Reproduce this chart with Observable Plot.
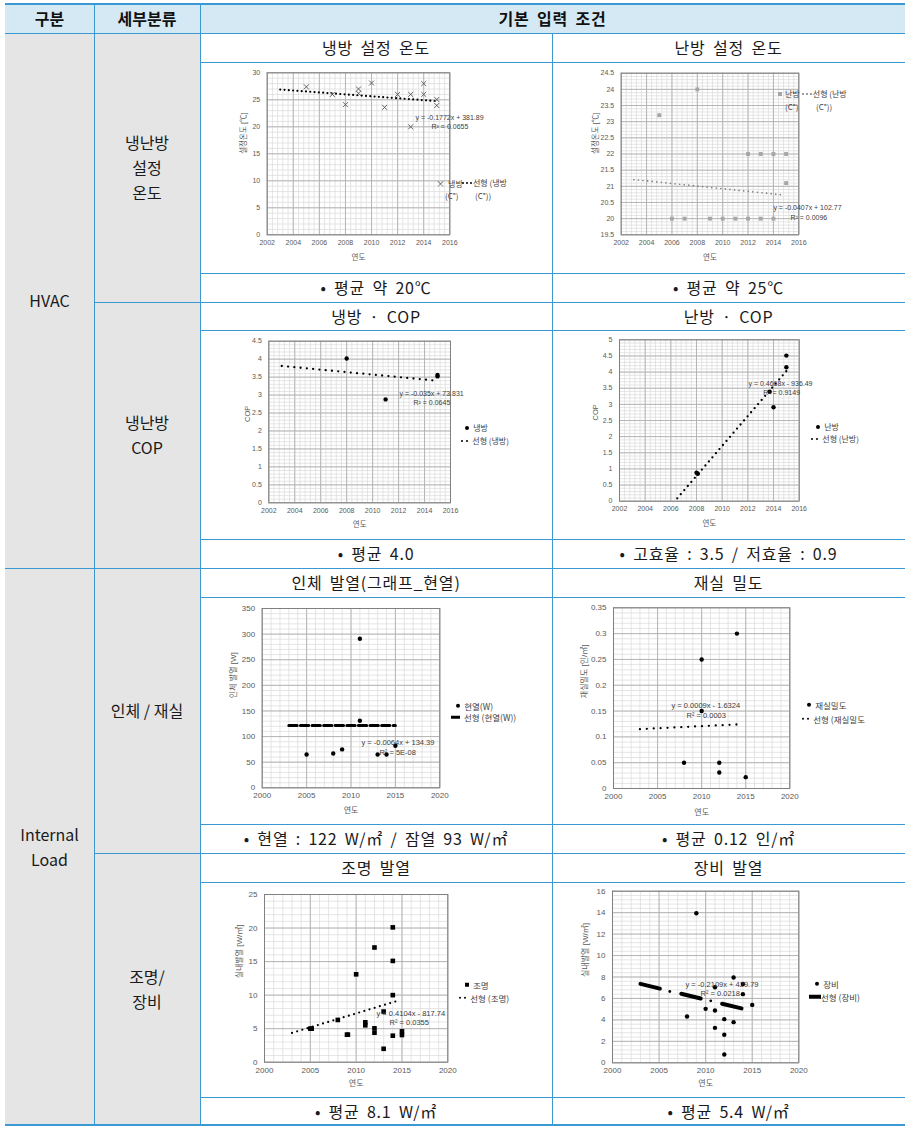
<!DOCTYPE html>
<html><head><meta charset="utf-8">
<script src="https://cdn.jsdelivr.net/npm/d3@7"></script>
<script src="https://cdn.jsdelivr.net/npm/@observablehq/plot@0.6"></script>
<style>
body{margin:0;background:#fff;}
#root{position:relative;width:909px;height:1146px;font-family:"Noto Sans CJK KR",sans-serif;color:#1a1a1a;overflow:hidden;}
.cell{position:absolute;display:flex;align-items:center;justify-content:center;text-align:center;box-sizing:border-box;font-size:16px;line-height:25px;}
.sp{word-spacing:3px;letter-spacing:0.8px;}
.ln{position:absolute;background:#3a98d2;}
.leg{position:absolute;font-family:"Noto Sans CJK KR",sans-serif;color:#404040;white-space:nowrap;line-height:1;transform:translateY(-50%);display:flex;align-items:center;}
.chart{position:absolute;}
</style></head><body><div id="root"></div>
<script>
// ---------------- data ----------------
// 냉방 설정 온도
const coolYear = [2005, 2007, 2008, 2009, 2009, 2010, 2011, 2012, 2013, 2013, 2014, 2014, 2015, 2015];
const coolTemp = [27.4, 26, 24.1, 27, 26.2, 28.1, 23.6, 26, 26, 20, 28, 26, 25.05, 23.95];
const coolTrendYear = [2003, 2015];
const coolTrend = [26.9, 24.75];
// 난방 설정 온도
const heatYear = [2005, 2008, 2006, 2007, 2009, 2010, 2011, 2012, 2013, 2014, 2012, 2013, 2014, 2015, 2015];
const heatTemp = [23.2, 24, 20, 20, 20, 20, 20, 20, 20, 20, 22, 22, 22, 22, 21.1];
const heatTrendYear = [2003, 2014.87];
const heatTrend = [21.21, 20.73];
// 냉방 COP
const copCoolYear = [2008, 2011, 2015, 2015];
const copCool = [4.02, 2.88, 3.56, 3.52];
const copCoolTrendYear = [2003, 2014.65];
const copCoolTrend = [3.81, 3.41];
// 난방 COP
const copHeatYear = [2015, 2015, 2014, 2008, 2008.1, 2013.7];
const copHeat = [4.51, 4.15, 2.91, 0.88, 0.85, 3.39];
const copHeatTrendYear = [2006.5, 2015];
const copHeatTrend = [0.09, 4.03];
// 인체 발열
const bodyYear = [2005, 2008, 2009, 2011, 2011, 2013, 2014, 2015];
const bodyHeat = [65, 67, 75, 291, 131, 65, 65, 82];
const bodyTrendYear = [2003, 2015];
const bodyTrend = [121.7, 121.6];
// 재실 밀도
const occYear = [2008, 2010, 2010, 2012, 2012, 2014, 2015];
const occDensity = [0.05, 0.25, 0.15, 0.05, 0.031, 0.3, 0.022];
const occTrendYear = [2003, 2014.67];
const occTrend = [0.115, 0.1246];
// 조명 발열
const lightYear = [2005, 2005.15, 2008, 2009, 2009.1, 2010, 2011, 2011, 2012, 2012, 2012, 2013, 2013, 2014, 2014, 2014, 2014, 2015, 2015];
const lightHeat = [5, 5, 6.3, 4.1, 4.1, 13.1, 5.95, 5.5, 17.1, 5.05, 4.4, 7.55, 2, 20.1, 15.1, 10, 3.95, 4.6, 4.05];
const lightTrendYear = [2003, 2014.62];
const lightTrend = [4.37, 9.19];
// 장비 발열
const equipYear = [2009, 2013, 2014, 2011, 2014, 2015, 2010, 2011, 2008, 2012, 2013, 2011, 2012, 2012];
const equipHeat = [13.95, 7.95, 7.35, 7.05, 6.4, 5.4, 5.03, 4.88, 4.32, 4.07, 3.79, 3.26, 2.61, 0.78];
const equipSmallYear = [2006.15, 2010.55];
const equipSmall = [6.65, 5.78];
const equipTrendYear = [2003, 2014];
const equipTrend = [7.36, 5.04];

// tick labels
const yearTicks14 = [2002, 2004, 2006, 2008, 2010, 2012, 2014, 2016];
const yearTicks20 = [2000, 2005, 2010, 2015, 2020];
const coolTicks = [0, 5, 10, 15, 20, 25, 30];
const heatTicks = [19.5, 20, 20.5, 21, 21.5, 22, 22.5, 23, 23.5, 24, 24.5];
const copCoolTicks = [0, 0.5, 1, 1.5, 2, 2.5, 3, 3.5, 4, 4.5];
const copHeatTicks = [0, 0.5, 1, 1.5, 2, 2.5, 3, 3.5, 4, 4.5, 5];
const bodyTicks = [0, 50, 100, 150, 200, 250, 300, 350];
const occTicks = [0, 0.05, 0.1, 0.15, 0.2, 0.25, 0.3, 0.35];
const lightTicks = [0, 5, 10, 15, 20, 25];
const equipTicks = [0, 2, 4, 6, 8, 10, 12, 14, 16];

// text
const headers = ["구분", "세부분류", "기본 입력 조건"];
const groups = ["HVAC", "Internal<br>Load"];
const subGroups = ["냉난방<br>설정<br>온도", "냉난방<br>COP", "인체 / 재실", "조명/<br>장비"];
const titles = [["냉방 설정 온도", "난방 설정 온도"], ["냉방 · COP", "난방 · COP"], ["인체 발열(그래프_현열)", "재실 밀도"], ["조명 발열", "장비 발열"]];
const notes = [["• 평균 약 20℃", "• 평균 약 25℃"], ["• 평균 4.0", "• 고효율 : 3.5 / 저효율 : 0.9"], ["• 현열 : 122 W/㎡ / 잠열 93 W/㎡", "• 평균 0.12 인/㎡"], ["• 평균 8.1 W/㎡", "• 평균 5.4 W/㎡"]];

// ---------------- layout ----------------
const root = document.getElementById("root");
const XL = 5, X1 = 94, X2 = 200, X3 = 552, XR = 905;
const ROWS = [4, 33, 62, 273, 302, 330, 539, 568, 597, 824, 853, 882, 1097, 1125];

function cell(x, y, w, h, html, style = "", cls = "") {
  const d = document.createElement("div");
  d.className = "cell " + cls;
  d.style.cssText = `left:${x}px;top:${y}px;width:${w}px;height:${h}px;${style}`;
  d.innerHTML = html;
  root.appendChild(d);
  return d;
}
function line(x, y, w, h) {
  const d = document.createElement("div");
  d.className = "ln";
  d.style.cssText = `left:${x}px;top:${y}px;width:${w}px;height:${h}px;`;
  root.appendChild(d);
}

// backgrounds
cell(XL, ROWS[0], XR - XL, ROWS[1] - ROWS[0], "", "background:#d5e9f4;");
cell(XL, ROWS[1], X2 - XL, ROWS[13] - ROWS[1], "", "background:#e5e5e5;");
// header texts
const hs = "font-weight:bold;font-size:16px;color:#111;";
cell(XL, ROWS[0], X1 - XL, ROWS[1] - ROWS[0], headers[0], hs);
cell(X1, ROWS[0], X2 - X1, ROWS[1] - ROWS[0], headers[1], hs);
cell(X2, ROWS[0], XR - X2, ROWS[1] - ROWS[0], headers[2], hs, "sp");
// group texts
cell(XL, ROWS[1], X1 - XL, ROWS[7] - ROWS[1], groups[0], "font-size:16px;");
cell(XL, ROWS[7], X1 - XL, ROWS[13] - ROWS[7], groups[1], "font-size:16px;");
const subRows = [[1, 4], [4, 7], [7, 10], [10, 13]];
subRows.forEach(([a, b], i) => cell(X1, ROWS[a], X2 - X1, ROWS[b] - ROWS[a], subGroups[i], "font-size:16px;"));
// titles / notes
for (let i = 0; i < 4; i++) {
  const tr = 1 + i * 3, nr = 3 + i * 3;
  cell(X2, ROWS[tr], X3 - X2, ROWS[tr + 1] - ROWS[tr], titles[i][0], "", "sp");
  cell(X3, ROWS[tr], XR - X3, ROWS[tr + 1] - ROWS[tr], titles[i][1], "", "sp");
  cell(X2, ROWS[nr], X3 - X2, ROWS[nr + 1] - ROWS[nr], notes[i][0], "", "sp");
  cell(X3, ROWS[nr], XR - X3, ROWS[nr + 1] - ROWS[nr], notes[i][1], "", "sp");
}

// ---------------- charts ----------------
const FONT = '"Liberation Sans","Noto Sans CJK KR",sans-serif';
const TXT = "#595959";
const rows = (xs, ys) => xs.map((x, i) => ({x, y: ys[i]}));

function makeChart(s) {
  const [cx, cy, cw, ch] = s.cell;
  const [bx0, by0, bx1, by1] = s.box;
  const fs = s.font;
  const marks = [
    Plot.gridX(s.xMinor, {stroke: "#dadada", strokeOpacity: 1, strokeWidth: 0.7}),
    Plot.gridY(s.yMinor, {stroke: "#dadada", strokeOpacity: 1, strokeWidth: 0.7}),
    Plot.gridX(s.xTicks, {stroke: "#b0b0b0", strokeOpacity: 1, strokeWidth: 0.9}),
    Plot.gridY(s.yTicks, {stroke: "#b0b0b0", strokeOpacity: 1, strokeWidth: 0.9}),
    Plot.frame({stroke: "#808080", strokeWidth: 1}),
    Plot.axisX(s.xTicks, {tickSize: 0, tickPadding: 5, tickFormat: d => String(d), label: null, fill: TXT, fontSize: fs}),
    Plot.axisY(s.yTicks, {tickSize: 0, tickPadding: 7, tickFormat: d => String(d), label: null, fill: TXT, fontSize: fs}),
    Plot.text(["연도"], {frameAnchor: "bottom", dy: s.xLabelOff, lineAnchor: "middle", fill: TXT, fontSize: s.labelFont}),
    Plot.text([s.yLabel], {frameAnchor: "left", dx: -s.yLabelOff, rotate: -90, lineAnchor: "middle", fill: TXT, fontSize: s.labelFont}),
    ...s.marks,
    Plot.text(s.eq, {x: "x", y: "y", text: "t", textAnchor: "start", lineAnchor: "middle", fill: "#404040", fontSize: s.eqFont})
  ];
  const svg = Plot.plot({
    width: cw, height: ch,
    marginLeft: bx0 - cx, marginRight: cx + cw - bx1, marginTop: by0 - cy, marginBottom: cy + ch - by1,
    x: {domain: s.xDomain}, y: {domain: s.yDomain},
    style: {background: "transparent", fontFamily: FONT, fontSize: fs + "px", color: TXT, overflow: "visible"},
    marks
  });
  const wrap = document.createElement("div");
  wrap.className = "chart";
  wrap.style.cssText = `left:${cx}px;top:${cy}px;width:${cw}px;height:${ch}px;`;
  wrap.appendChild(svg);
  // legend
  for (const [lx, ly, sym, text] of s.legend) {
    const d = document.createElement("div");
    d.className = "leg";
    d.style.cssText = `left:${lx}px;top:${ly}px;font-size:${s.legFont}px;`;
    d.innerHTML = symbol(sym) + `<span>${text}</span>`;
    wrap.appendChild(d);
  }
  root.appendChild(wrap);
}
function symbol(k) {
  const dot = (s, c = "#000", m = 0) => `<span style="display:inline-block;width:${s}px;height:${s}px;border-radius:50%;background:${c};margin-right:${m}px"></span>`;
  switch (k) {
    case "times": return `<span style="font-size:9px;color:#555;margin-right:3px">×</span>`;
    case "gsquare": return `<span style="display:inline-block;width:4px;height:4px;background:#a6a6a6;margin-right:3px"></span>`;
    case "square": return `<span style="display:inline-block;width:4px;height:4px;background:#000;margin-right:4px"></span>`;
    case "dot": return dot(4.2, "#000", 4);
    case "dots3": return dot(2, "#000", 2) + dot(2, "#000", 2) + dot(2, "#000", 1);
    case "gdots3": return dot(1.8, "#808080", 2.2) + dot(1.8, "#808080", 2.2) + dot(1.8, "#808080", 1);
    case "dots2": return dot(2.4, "#000", 2.5) + dot(2.4, "#000", 4);
    case "dash": return `<span style="display:inline-block;width:9px;height:3px;background:#000;margin-right:4px"></span>`;
    case "dashThick": return `<span style="display:inline-block;width:12px;height:4px;background:#000;margin-right:0px"></span>`;
    default: return "";
  }
}
const minor = (a, b, st) => d3.range(Math.round((b - a) / st) + 1).map(i => a + i * st);
const trend = (xs, ys, o) => Plot.line(rows(xs, ys), {x: "x", y: "y", ...o});
const dotted = (w, gap, c = "#000") => ({stroke: c, strokeWidth: w, strokeDasharray: `0,${gap}`, strokeLinecap: "round"});

// chart 1
makeChart({
  cell: [X2, ROWS[2], X3 - X2, ROWS[3] - ROWS[2]], box: [266.7, 72.3, 449.3, 234.3],
  xDomain: [2002, 2016], yDomain: [0, 30], xTicks: yearTicks14, yTicks: coolTicks,
  xMinor: minor(2002, 2016, 0.4), yMinor: minor(0, 30, 1),
  font: 7, labelFont: 7.5, eqFont: 7, legFont: 8,
  xLabelOff: 22.7, yLabel: "설정온도 [℃]", yLabelOff: 23.7,
  marks: [
    trend(coolTrendYear, coolTrend, dotted(2.2, 4.3)),
    Plot.dot(rows(coolYear, coolTemp), {x: "x", y: "y", symbol: "times", r: 2.4, stroke: "#555", strokeWidth: 0.9})
  ],
  eq: [{x: 2013.37, y: 21.7, t: "y = -0.1772x + 381.89"}, {x: 2014.6, y: 20.05, t: "R² = 0.0655"}],
  legend: [[236, 121, "times", "냉방"], [262, 121, "dots3", "선형 (냉방"], [245, 134, null, "(C°)"], [275, 134, null, "(C°))"]]
});
// chart 2
makeChart({
  cell: [X3, ROWS[2], XR - X3, ROWS[3] - ROWS[2]], box: [620.7, 72.7, 798.3, 234.3],
  xDomain: [2002, 2016], yDomain: [19.5, 24.5], xTicks: yearTicks14, yTicks: heatTicks,
  xMinor: minor(2002, 2016, 0.4), yMinor: minor(19.5, 24.5, 0.1),
  font: 7, labelFont: 7.5, eqFont: 7, legFont: 8,
  xLabelOff: 22.7, yLabel: "설정온도 [℃]", yLabelOff: 25.7,
  marks: [
    trend(heatTrendYear, heatTrend, dotted(1.7, 4.6, "#7f7f7f")),
    Plot.dot(rows(heatYear, heatTemp), {x: "x", y: "y", symbol: "square", r: 2.2, fill: "#a6a6a6"})
  ],
  eq: [{x: 2014.0, y: 20.34, t: "y = -0.0407x + 102.77"}, {x: 2015.34, y: 20.04, t: "R² = 0.0096"}],
  legend: [[226, 32, "gsquare", "난방"], [250, 32, "gdots3", "선형 (난방"], [233, 45, null, "(C°)"], [264, 45, null, "(C°))"]]
});
// chart 3
makeChart({
  cell: [X2, ROWS[5], X3 - X2, ROWS[6] - ROWS[5]], box: [268.3, 340.7, 450, 502.3],
  xDomain: [2002, 2016], yDomain: [0, 4.5], xTicks: yearTicks14, yTicks: copCoolTicks,
  xMinor: minor(2002, 2016, 0.4), yMinor: minor(0, 4.5, 0.1),
  font: 7, labelFont: 7.5, eqFont: 7, legFont: 8,
  xLabelOff: 21.7, yLabel: "COP", yLabelOff: 21.3,
  marks: [
    trend(copCoolTrendYear, copCoolTrend, dotted(2.3, 6.3)),
    Plot.dot(rows(copCoolYear, copCool), {x: "x", y: "y", r: 2.2, fill: "#000"})
  ],
  eq: [{x: 2012.07, y: 3.04, t: "y = -0.035x + 73.831"}, {x: 2013.15, y: 2.79, t: "R² = 0.0645"}],
  legend: [[265, 98, "dot", "냉방"], [261, 111, "dots2", "선형 (냉방)"]]
});
// chart 4
makeChart({
  cell: [X3, ROWS[5], XR - X3, ROWS[6] - ROWS[5]], box: [619, 339.3, 798.7, 500.7],
  xDomain: [2002, 2016], yDomain: [0, 5], xTicks: yearTicks14, yTicks: copHeatTicks,
  xMinor: minor(2002, 2016, 0.4), yMinor: minor(0, 5, 0.1),
  font: 7, labelFont: 7.5, eqFont: 7, legFont: 8,
  xLabelOff: 22.3, yLabel: "COP", yLabelOff: 24,
  marks: [
    trend(copHeatTrendYear, copHeatTrend, dotted(2.3, 5.4)),
    Plot.dot(rows(copHeatYear, copHeat), {x: "x", y: "y", r: 2.2, fill: "#000"})
  ],
  eq: [{x: 2012.05, y: 3.65, t: "y = 0.4668x - 936.49"}, {x: 2013.2, y: 3.37, t: "R² = 0.9149"}],
  legend: [[264, 97, "dot", "난방"], [259, 109, "dots2", "선형 (난방)"]]
});
// chart 5
makeChart({
  cell: [X2, ROWS[8], X3 - X2, ROWS[9] - ROWS[8]], box: [261.7, 608, 439.3, 787.3],
  xDomain: [2000, 2020], yDomain: [0, 350], xTicks: yearTicks20, yTicks: bodyTicks,
  xMinor: minor(2000, 2020, 1), yMinor: minor(0, 350, 10),
  font: 8, labelFont: 8, eqFont: 7.5, legFont: 8.5,
  xLabelOff: 22.7, yLabel: "인체 발열 [W]", yLabelOff: 28.7,
  marks: [
    trend(bodyTrendYear, bodyTrend, {stroke: "#000", strokeWidth: 3, strokeDasharray: "8.3,3.3"}),
    Plot.dot(rows(bodyYear, bodyHeat), {x: "x", y: "y", r: 2.2, fill: "#000"})
  ],
  eq: [{x: 2011.18, y: 88.4, t: "y = -0.0064x + 134.39"}, {x: 2013.2, y: 68.9, t: "R² = 5E-08"}],
  legend: [[256, 109, "dot", "현열(W)"], [251, 120, "dash", "선형 (현열(W))"]]
});
// chart 6
makeChart({
  cell: [X3, ROWS[8], XR - X3, ROWS[9] - ROWS[8]], box: [613, 607.3, 789.3, 788],
  xDomain: [2000, 2020], yDomain: [0, 0.35], xTicks: yearTicks20, yTicks: occTicks,
  xMinor: minor(2000, 2020, 1), yMinor: minor(0, 0.35, 0.01),
  font: 8, labelFont: 8, eqFont: 7.5, legFont: 8.5,
  xLabelOff: 24, yLabel: "재실밀도 [인/㎡]", yLabelOff: 29,
  marks: [
    trend(occTrendYear, occTrend, dotted(2.3, 6.9)),
    Plot.dot(rows(occYear, occDensity), {x: "x", y: "y", r: 2.2, fill: "#000"})
  ],
  eq: [{x: 2006.58, y: 0.1608, t: "y = 0.0009x - 1.6324"}, {x: 2008.28, y: 0.1414, t: "R² = 0.0003"}],
  legend: [[255, 108, "dot", "재실밀도"], [250, 122, "dots2", "선형 (재실밀도"]]
});
// chart 7
makeChart({
  cell: [X2, ROWS[11], X3 - X2, ROWS[12] - ROWS[11]], box: [264, 894, 447.3, 1061.7],
  xDomain: [2000, 2020], yDomain: [0, 25], xTicks: yearTicks20, yTicks: lightTicks,
  xMinor: minor(2000, 2020, 1), yMinor: minor(0, 25, 1),
  font: 8, labelFont: 8, eqFont: 7.5, legFont: 8.5,
  xLabelOff: 21.3, yLabel: "실내발열 [W/㎡]", yLabelOff: 25,
  marks: [
    trend(lightTrendYear, lightTrend, dotted(2.2, 5.4)),
    Plot.dot(rows(lightYear, lightHeat), {x: "x", y: "y", symbol: "square", r: 2.6, fill: "#000"})
  ],
  eq: [{x: 2012.22, y: 7.26, t: "y = 0.4104x - 817.74"}, {x: 2013.64, y: 5.92, t: "R² = 0.0355"}],
  legend: [[265, 103, "square", "조명"], [259, 116, "dots2", "선형 (조명)"]]
});
// chart 8
makeChart({
  cell: [X3, ROWS[11], XR - X3, ROWS[12] - ROWS[11]], box: [612, 890.7, 798.3, 1062.3],
  xDomain: [2000, 2020], yDomain: [0, 16], xTicks: yearTicks20, yTicks: equipTicks,
  xMinor: minor(2000, 2020, 1), yMinor: minor(0, 16, 0.4),
  font: 8, labelFont: 8, eqFont: 7.5, legFont: 8.5,
  xLabelOff: 20.7, yLabel: "실내발열 [W/㎡]", yLabelOff: 27,
  marks: [
    trend(equipTrendYear, equipTrend, {stroke: "#000", strokeWidth: 4, strokeDasharray: "20,22"}),
    Plot.dot(rows(equipYear, equipHeat), {x: "x", y: "y", r: 2.2, fill: "#000"}),
    Plot.dot(rows(equipSmallYear, equipSmall), {x: "x", y: "y", r: 1.4, fill: "#000"})
  ],
  eq: [{x: 2007.84, y: 7.3, t: "y = -0.2109x + 429.79"}, {x: 2009.45, y: 6.46, t: "R² = 0.0218"}],
  legend: [[263, 102, "dot", "장비"], [257, 115, "dashThick", "선형 (장비)"]]
});

// ---------------- lines ----------------
line(XL, ROWS[0] - 1, XR - XL, 2);
line(XL, ROWS[1], XR - XL, 1);
line(XL, ROWS[7], XR - XL, 1);
line(XL, ROWS[13] - 1, XR - XL, 2);
[4, 10].forEach(r => line(X1, ROWS[r], XR - X1, 1));
[2, 3, 5, 6, 8, 9, 11, 12].forEach(r => line(X2, ROWS[r], XR - X2, 1));
line(X1, ROWS[0], 1, ROWS[13] - ROWS[0]);
line(X2, ROWS[0], 1, ROWS[13] - ROWS[0]);
line(X3, ROWS[1], 1, ROWS[13] - ROWS[1]);
</script></body></html>
